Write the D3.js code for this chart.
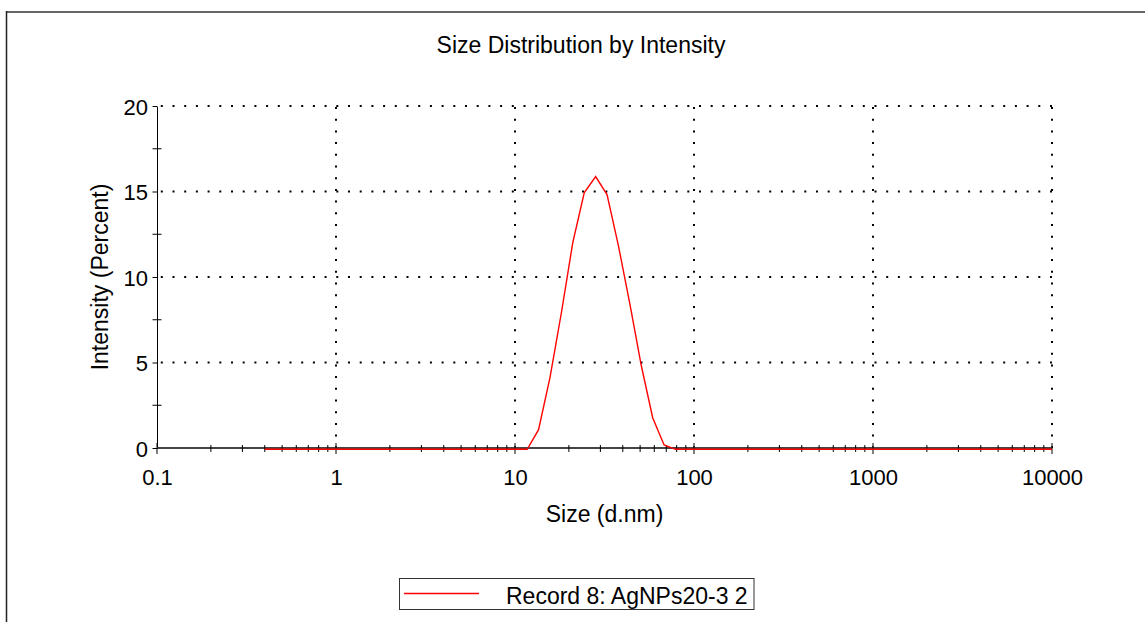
<!DOCTYPE html>
<html>
    <head>
        <meta charset="utf-8">
<!-- Load d3.js -->
        <script src="https://d3js.org/d3.v7.min.js"></script>
        <style>
            body { margin: 0; background: #fff; }
            text { font-family: "Liberation Sans", Arial, sans-serif; fill: #000; }
        </style>
    </head>
    <body>
        <div id="my_dataviz"></div>
            <script>
                // Zetasizer size classes (d.nm)
                const sizes = [0.4, 0.4632, 0.5365, 0.6213, 0.7195, 0.8332, 0.9649, 1.117, 1.294, 1.499,
                    1.736, 2.010, 2.328, 2.696, 3.122, 3.615, 4.187, 4.849, 5.615, 6.503,
                    7.531, 8.721, 10.10, 11.70, 13.54, 15.69, 18.17, 21.04, 24.36, 28.21,
                    32.67, 37.84, 43.82, 50.75, 58.77, 68.06, 78.82, 91.28, 105.7, 122.4,
                    141.8, 164.2, 190.1, 220.2, 255.0, 295.3, 342.0, 396.1, 458.7, 531.2,
                    615.1, 712.4, 825.0, 955.4, 1106, 1281, 1484, 1718, 1990, 2305,
                    2669, 3091, 3580, 4145, 4801, 5560, 6439, 7456, 8635, 10000]

                // Record 8: AgNPs20-3 2, intensity (percent)
                const intensity = [0, 0, 0, 0, 0, 0, 0, 0, 0, 0,
                    0, 0, 0, 0, 0, 0, 0, 0, 0, 0,
                    0, 0, 0, 0, 1.15, 4.2, 8.0, 12.1, 15.0, 15.95,
                    14.9, 11.9, 8.5, 4.9, 1.85, 0.25, 0, 0, 0, 0,
                    0, 0, 0, 0, 0, 0, 0, 0, 0, 0,
                    0, 0, 0, 0, 0, 0, 0, 0, 0, 0,
                    0, 0, 0, 0, 0, 0, 0, 0, 0, 0]

                const xTicks = [0.1, 1, 10, 100, 1000, 10000]
                const yTicks = [0, 5, 10, 15, 20]
                const yMinor = [2.5, 7.5, 12.5, 17.5]
                const seriesName = "Record 8: AgNPs20-3 2"

                const W = 1145, H = 622
                const svg = d3.select("#my_dataviz")
                    .append("svg")
                    .attr("width", W)
                    .attr("height", H)

                // outer frame
                svg.append("line").attr("x1", 6).attr("x2", W).attr("y1", 12).attr("y2", 12)
                    .attr("stroke", "#666").attr("stroke-width", 2)
                svg.append("line").attr("x1", 6.5).attr("x2", 6.5).attr("y1", 11).attr("y2", H)
                    .attr("stroke", "#222").attr("stroke-width", 1.5)

                const x = d3.scaleLog().domain([0.1, 10000]).range([157, 1052])
                const y = d3.scaleLinear().domain([0, 20]).range([448, 106])

                // dotted grid
                const grid = svg.append("g")
                    .attr("stroke", "#000")
                    .attr("stroke-width", 2)
                    .attr("stroke-dasharray", "2 9.7")
                grid.selectAll(".hg")
                    .data(yTicks.filter(d => d > 0))
                    .join("line")
                    .attr("x1", 1052).attr("x2", 157)
                    .attr("y1", d => y(d)).attr("y2", d => y(d))
                grid.selectAll(".vg")
                    .data(xTicks.filter(d => d > 0.1))
                    .join("line")
                    .attr("x1", d => x(d)).attr("x2", d => x(d))
                    .attr("y1", 107).attr("y2", 448)

                // Y axis
                svg.append("g")
                    .attr("transform", "translate(157,0)")
                    .call(d3.axisLeft(y).tickValues(yTicks).tickSize(4.5).tickSizeOuter(0).tickPadding(4.5))
                    .call(g => g.selectAll("text").attr("font-size", 22).attr("dy", "0.37em")
                        .attr("font-family", "'Liberation Sans', Arial, sans-serif"))
                    .call(g => g.selectAll("line, path").attr("stroke", "#000"))
                svg.append("g").selectAll("line")
                    .data(yMinor)
                    .join("line")
                    .attr("x1", 152.5).attr("x2", 161.5)
                    .attr("y1", d => y(d)).attr("y2", d => y(d))
                    .attr("stroke", "#000")

                // X axis
                svg.append("line")
                    .attr("x1", 157).attr("x2", 1052).attr("y1", 448).attr("y2", 448)
                    .attr("stroke", "#444").attr("stroke-width", 2)
                svg.append("g")
                    .attr("transform", "translate(0,448)")
                    .call(d3.axisBottom(x).tickValues(xTicks).tickFormat(d => String(d)).tickSize(0).tickPadding(21.4))
                    .call(g => g.select(".domain").remove())
                    .call(g => g.selectAll("text").attr("font-size", 22)
                        .attr("font-family", "'Liberation Sans', Arial, sans-serif"))

                const minor = []
                xTicks.slice(0, -1).forEach(d => { for (let m = 2; m < 10; m++) minor.push(d * m) })
                svg.append("g").selectAll("line")
                    .data(minor)
                    .join("line")
                    .attr("x1", d => x(d)).attr("x2", d => x(d))
                    .attr("y1", 445).attr("y2", 452)
                    .attr("stroke", "#000")
                svg.append("g").selectAll("line")
                    .data(xTicks)
                    .join("line")
                    .attr("x1", d => x(d)).attr("x2", d => x(d))
                    .attr("y1", 443).attr("y2", 454)
                    .attr("stroke", "#000")

                // the distribution line
                const line = d3.line()
                    .x((d, i) => x(sizes[i]))
                    .y(d => y(d))
                svg.append("path")
                    .datum(intensity)
                    .attr("transform", "translate(0,1.3)")
                    .attr("fill", "none")
                    .attr("stroke", "#ff0000")
                    .attr("stroke-width", 1.4)
                    .attr("d", line)

                // titles
                svg.append("text")
                    .attr("x", 581).attr("y", 53)
                    .attr("text-anchor", "middle")
                    .attr("font-size", 23)
                    .text("Size Distribution by Intensity")
                svg.append("text")
                    .attr("x", 604.5).attr("y", 522)
                    .attr("text-anchor", "middle")
                    .attr("font-size", 23)
                    .text("Size (d.nm)")
                svg.append("text")
                    .attr("transform", "translate(108,277) rotate(-90)")
                    .attr("text-anchor", "middle")
                    .attr("font-size", 23)
                    .text("Intensity (Percent)")

                // legend
                const legend = svg.append("g")
                legend.append("rect")
                    .attr("x", 399.5).attr("y", 578.5)
                    .attr("width", 354.5).attr("height", 31)
                    .attr("fill", "#fff").attr("stroke", "#333")
                legend.append("line")
                    .attr("x1", 404).attr("x2", 479).attr("y1", 593.5).attr("y2", 593.5)
                    .attr("stroke", "#ff0000").attr("stroke-width", 1.4)
                legend.append("text")
                    .attr("x", 506).attr("y", 604)
                    .attr("font-size", 23)
                    .text(seriesName)
            </script>
    </body>
</html>
